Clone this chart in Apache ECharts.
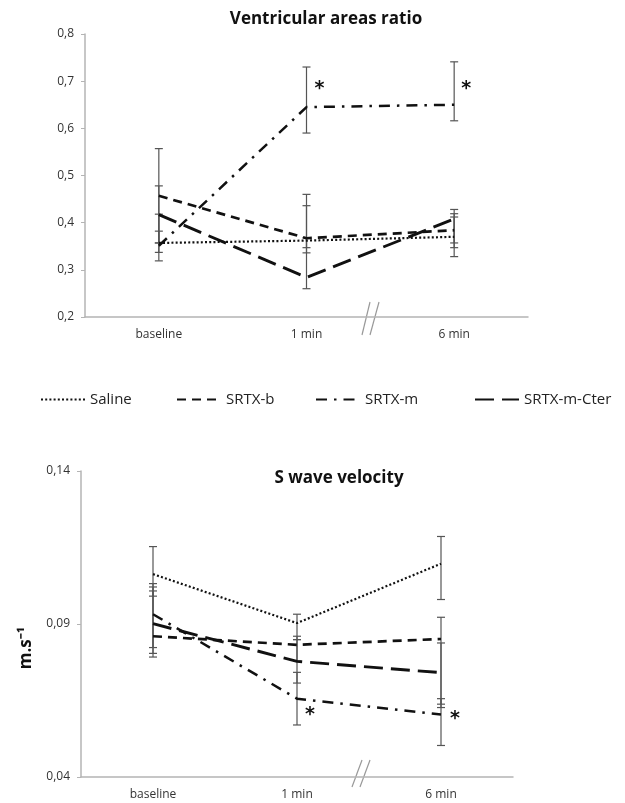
<!DOCTYPE html>
<html>
<head>
<meta charset="utf-8">
<script src="https://cdn.jsdelivr.net/npm/echarts@6/dist/echarts.min.js"></script>
<style>
  html, body { margin: 0; padding: 0; background: #fff; }
  #main { width: 625px; height: 803px; }
</style>
</head>
<body>
<div id="main"></div>
<script>
var categories = ['baseline', '1 min', '6 min'];
var names = ['Saline', 'SRTX-b', 'SRTX-m', 'SRTX-m-Cter'];

// Ventricular areas ratio (means, then [low, high] of the error bars)
var ratioSaline = [0.357, 0.362, 0.370];
var ratioSrtxB = [0.457, 0.367, 0.384];
var ratioSrtxM = [0.351, 0.645, 0.650];
var ratioCter = [0.417, 0.284, 0.408];
var ratioSalineErr = [[0.337, 0.382], [0.336, 0.436], [0.328, 0.412]];
var ratioSrtxBErr = [[0.357, 0.557], [0.347, 0.460], [0.347, 0.419]];
var ratioSrtxMErr = [[0.319, 0.418], [0.590, 0.730], [0.616, 0.741]];
var ratioCterErr = [[0.357, 0.478], [0.260, 0.368], [0.357, 0.428]];
var ratioStars = [[1, 0.684, 13], [2, 0.684, 12]];

// S wave velocity
var velSaline = [0.1063, 0.0903, 0.1097];
var velSrtxB = [0.0860, 0.0832, 0.0851];
var velSrtxM = [0.0932, 0.0656, 0.0604];
var velCter = [0.0901, 0.0778, 0.0741];
var velSalineErr = [[0.0991, 0.1153], [0.0849, 0.0932], [0.0980, 0.1186]];
var velSrtxBErr = [[0.0804, 0.1021], [0.0779, 0.0860], [0.0627, 0.0922]];
var velSrtxMErr = [[0.0823, 0.1032], [0.0570, 0.0742], [0.0503, 0.0656]];
var velCterErr = [[0.0792, 0.1008], [0.0707, 0.0849], [0.0638, 0.0838]];
var velStars = [[1, 0.0602, 13], [2, 0.0589, 14]];

var lineTypes = [[2, 2.2], [9, 6], [11, 7, 2.5, 7], [19, 8]];
var lineWidths = [2.2, 2.7, 2.5, 2.9];

var chart = echarts.init(document.getElementById('main'));

function comma(d) {
  return function (v) { return v.toFixed(d).replace('.', ','); };
}

function errorBar(params, api) {
  var hi = api.coord([api.value(0), api.value(2)]);
  var lo = api.coord([api.value(0), api.value(1)]);
  var st = { stroke: '#555', lineWidth: 1.2 };
  return {
    type: 'group',
    children: [
      { type: 'line', shape: { x1: hi[0], y1: hi[1], x2: lo[0], y2: lo[1] }, style: st },
      { type: 'line', shape: { x1: hi[0] - 4, y1: hi[1], x2: hi[0] + 4, y2: hi[1] }, style: st },
      { type: 'line', shape: { x1: lo[0] - 4, y1: lo[1], x2: lo[0] + 4, y2: lo[1] }, style: st }
    ]
  };
}

function star(params, api) {
  var p = api.coord([api.value(0), api.value(1)]);
  return {
    type: 'text',
    x: p[0] + api.value(2), y: p[1],
    style: { text: '*', fontSize: 19, fontWeight: 'bold', fill: '#111', align: 'center', verticalAlign: 'middle', fontFamily: 'DejaVu Sans' }
  };
}

function buildSeries(idx, means, errs, stars) {
  var out = [];
  means.forEach(function (m, i) {
    out.push({
      type: 'custom', xAxisIndex: idx, yAxisIndex: idx, renderItem: errorBar, silent: true, z: 1,
      data: errs[i].map(function (e, j) { return [j, e[0], e[1]]; })
    });
  });
  means.forEach(function (m, i) {
    out.push({
      name: names[i], type: 'line', xAxisIndex: idx, yAxisIndex: idx, data: m, symbol: 'none',
      lineStyle: { color: '#111', width: lineWidths[i], type: lineTypes[i] }, itemStyle: { color: '#111' }, z: 2
    });
  });
  out.push({ type: 'custom', xAxisIndex: idx, yAxisIndex: idx, renderItem: star, silent: true, data: stars, z: 3 });
  return out;
}

var axisGray = '#b4b4b4';
var font = 'Open Sans';

function xAxis(grid) {
  return {
    type: 'category', gridIndex: grid, data: categories,
    axisLine: { lineStyle: { color: axisGray, width: 1.5 } },
    axisTick: { alignWithLabel: true, inside: true, length: 4, lineStyle: { color: axisGray } },
    axisLabel: { color: '#333', fontSize: 12, fontFamily: font, margin: 12 }
  };
}

function yAxis(grid, min, max, step, d) {
  return {
    type: 'value', gridIndex: grid, min: min, max: max, interval: step,
    axisLine: { show: true, lineStyle: { color: axisGray, width: 1.5 } },
    axisTick: { show: true, length: 4, lineStyle: { color: axisGray } },
    splitLine: { show: false },
    axisLabel: { color: '#333', fontSize: 12, fontFamily: font, margin: 11, formatter: comma(d) }
  };
}

var legendLefts = [40, 176, 315, 474];

var option = {
  backgroundColor: '#fff',
  animation: false,
  title: [
    { text: 'Ventricular areas ratio', left: 321, top: 6, textAlign: 'center',
      textStyle: { fontSize: 17, fontWeight: 'bold', color: '#111', fontFamily: font } },
    { text: 'S wave velocity', left: 334, top: 465, textAlign: 'center',
      textStyle: { fontSize: 17, fontWeight: 'bold', color: '#111', fontFamily: font } }
  ],
  legend: names.map(function (n, i) {
    return {
      data: [n], left: legendLefts[i], top: 392, padding: 0, itemWidth: 44, itemHeight: 14, itemGap: 0,
      itemStyle: { color: 'transparent', borderColor: 'transparent', borderWidth: 0 },
      textStyle: { fontSize: 15, color: '#222', fontFamily: font }
    };
  }),
  grid: [
    { left: 85, right: 97, top: 34, height: 283 },
    { left: 81, right: 112, top: 471, height: 306 }
  ],
  xAxis: [xAxis(0), xAxis(1)],
  yAxis: [yAxis(0, 0.2, 0.8, 0.1, 1), yAxis(1, 0.04, 0.14, 0.05, 2)],
  graphic: [
    { type: 'text', x: 26, y: 648, rotation: Math.PI / 2,
      style: { text: 'm.s⁻¹', fontSize: 17, fontWeight: 'bold', fill: '#111', fontFamily: font, align: 'center', verticalAlign: 'middle' } },
    { type: 'line', shape: { x1: 362, y1: 335, x2: 370, y2: 302 }, style: { stroke: '#999', lineWidth: 1.2 } },
    { type: 'line', shape: { x1: 370, y1: 335, x2: 379, y2: 302 }, style: { stroke: '#999', lineWidth: 1.2 } },
    { type: 'line', shape: { x1: 352, y1: 787, x2: 362, y2: 760 }, style: { stroke: '#999', lineWidth: 1.2 } },
    { type: 'line', shape: { x1: 360, y1: 787, x2: 370, y2: 760 }, style: { stroke: '#999', lineWidth: 1.2 } }
  ],
  series: buildSeries(0, [ratioSaline, ratioSrtxB, ratioSrtxM, ratioCter],
      [ratioSalineErr, ratioSrtxBErr, ratioSrtxMErr, ratioCterErr], ratioStars)
    .concat(buildSeries(1, [velSaline, velSrtxB, velSrtxM, velCter],
      [velSalineErr, velSrtxBErr, velSrtxMErr, velCterErr], velStars))
};

chart.setOption(option);
</script>
</body>
</html>
